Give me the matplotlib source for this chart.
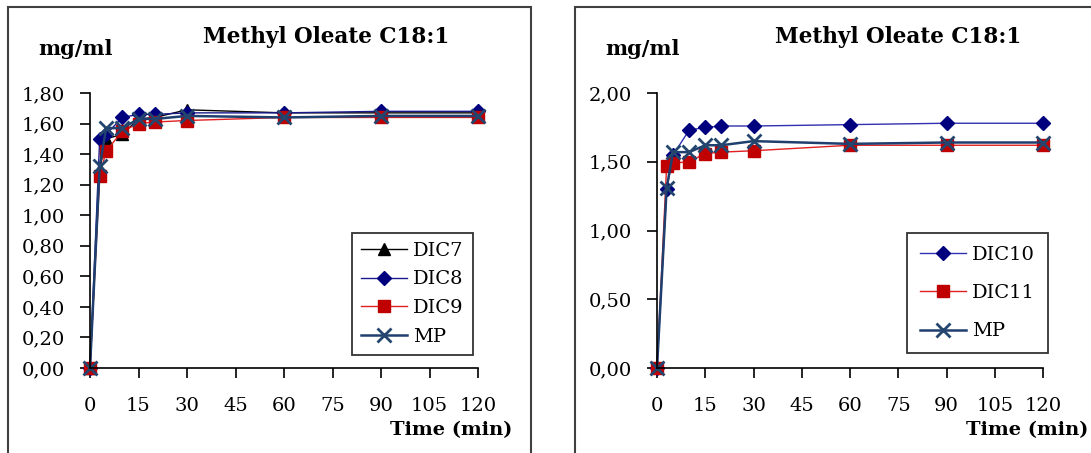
import matplotlib
matplotlib.use("Agg")
import matplotlib.pyplot as plt
from matplotlib.patches import Rectangle
from matplotlib.ticker import FuncFormatter

plt.rcParams["font.family"] = ["DejaVu Serif"]

# sampling times (min)
time = [0, 3, 5, 10, 15, 20, 30, 60, 90, 120]

# left panel
dic7 = [0.00, 1.30, 1.50, 1.53, 1.63, 1.64, 1.69, 1.67, 1.67, 1.67]
dic8 = [0.00, 1.50, 1.53, 1.64, 1.66, 1.66, 1.67, 1.67, 1.68, 1.68]
dic9 = [0.00, 1.26, 1.42, 1.55, 1.60, 1.61, 1.62, 1.64, 1.64, 1.64]
mp_left = [0.00, 1.32, 1.57, 1.57, 1.63, 1.63, 1.65, 1.64, 1.65, 1.65]

# right panel
dic10 = [0.00, 1.30, 1.55, 1.73, 1.75, 1.76, 1.76, 1.77, 1.78, 1.78]
dic11 = [0.00, 1.47, 1.49, 1.50, 1.56, 1.57, 1.58, 1.62, 1.62, 1.62]
mp_right = [0.00, 1.31, 1.57, 1.57, 1.62, 1.62, 1.65, 1.63, 1.64, 1.64]

x_ticks = [0, 15, 30, 45, 60, 75, 90, 105, 120]
title = "Methyl Oleate C18:1"

W, H = 1091, 453
fig = plt.figure(figsize=(W / 100, H / 100), dpi=100)

# outer frames of the two chart areas
fig.patches.append(Rectangle((8 / W, -0.1), (531 - 8) / W, 1.1 - 7 / H,
                             transform=fig.transFigure, fill=False,
                             edgecolor="#404040", linewidth=1.5))
fig.patches.append(Rectangle((575 / W, -0.1), (1091 - 575 + 10) / W, 1.1 - 7 / H,
                             transform=fig.transFigure, fill=False,
                             edgecolor="#404040", linewidth=1.5))

comma = FuncFormatter(lambda v, p: f"{v:.2f}".replace(".", ","))


def setup_axes(ax, ymax, ystep):
    ax.set_xlim(0, 120)
    ax.set_ylim(0, ymax)
    ax.set_xticks(x_ticks)
    ax.set_yticks([i * ystep for i in range(int(round(ymax / ystep)) + 1)])
    ax.yaxis.set_major_formatter(comma)
    for s in ["top", "right"]:
        ax.spines[s].set_visible(False)
    ax.spines["left"].set_linewidth(1.2)
    ax.spines["bottom"].set_linewidth(1.2)
    ax.tick_params(direction="out", length=7, width=1.2, labelsize=14)
    ax.tick_params(axis="x", pad=14)
    ax.tick_params(axis="y", pad=11)
    for sp in ax.spines.values():
        sp.set_clip_on(False)


def px_axes(x0, y0, x1, y1):
    return fig.add_axes([x0 / W, 1 - y1 / H, (x1 - x0) / W, (y1 - y0) / H])


leg_kw = dict(loc="upper left", frameon=True, fancybox=False, edgecolor="black",
              fontsize=14, handlelength=2.4, borderaxespad=0, handletextpad=0.3)

# left chart
ax1 = px_axes(90, 93, 478, 368)
ms = 8
ax1.plot(time, dic7, color="black", lw=1, marker="^", ms=ms, label="DIC7", clip_on=False)
ax1.plot(time, dic8, color="#1a1a8c", lw=1, marker="D", ms=ms - 1, mfc="#00007f", mec="#00007f", label="DIC8", clip_on=False)
ax1.plot(time, dic9, color="#e02020", lw=1, marker="s", ms=ms + 1, mfc="#c00000", mec="#c00000", label="DIC9", clip_on=False)
ax1.plot(time, mp_left, color="#1f3f6f", lw=1.8, marker="x", ms=ms + 2, mew=2, mec="#24466e", label="MP", clip_on=False)
setup_axes(ax1, 1.8, 0.2)
leg1 = ax1.legend(bbox_to_anchor=((352 - 90) / 388, 1 - (233 - 93) / 275),
                  labelspacing=0.55, borderpad=0.45, **leg_kw)
leg1.get_frame().set_linewidth(1.3)

fig.text(326 / W, 1 - 37 / H, title, ha="center", va="center", fontsize=15.5, fontweight="bold")
fig.text(38 / W, 1 - 49 / H, "mg/ml", ha="left", va="center", fontsize=15, fontweight="bold")
fig.text(512 / W, 1 - 430 / H, "Time (min)", ha="right", va="center", fontsize=14, fontweight="bold")

# right chart
ax2 = px_axes(657, 93, 1043, 368)
ax2.plot(time, dic10, color="#3030b0", lw=1, marker="D", ms=ms - 1, mfc="#00007f", mec="#00007f", label="DIC10", clip_on=False)
ax2.plot(time, dic11, color="#e02020", lw=1, marker="s", ms=ms + 1, mfc="#c00000", mec="#c00000", label="DIC11", clip_on=False)
ax2.plot(time, mp_right, color="#1f3f6f", lw=1.8, marker="x", ms=ms + 2, mew=2, mec="#24466e", label="MP", clip_on=False)
setup_axes(ax2, 2.0, 0.5)
leg2 = ax2.legend(bbox_to_anchor=((907 - 657) / 386, 1 - (233 - 93) / 275),
                  labelspacing=1.05, borderpad=0.65, **leg_kw)
leg2.get_frame().set_linewidth(1.3)

fig.text(898 / W, 1 - 37 / H, title, ha="center", va="center", fontsize=15.5, fontweight="bold")
fig.text(605 / W, 1 - 49 / H, "mg/ml", ha="left", va="center", fontsize=15, fontweight="bold")
fig.text(1088 / W, 1 - 430 / H, "Time (min)", ha="right", va="center", fontsize=14, fontweight="bold")

fig.savefig("out.png", dpi=100)
